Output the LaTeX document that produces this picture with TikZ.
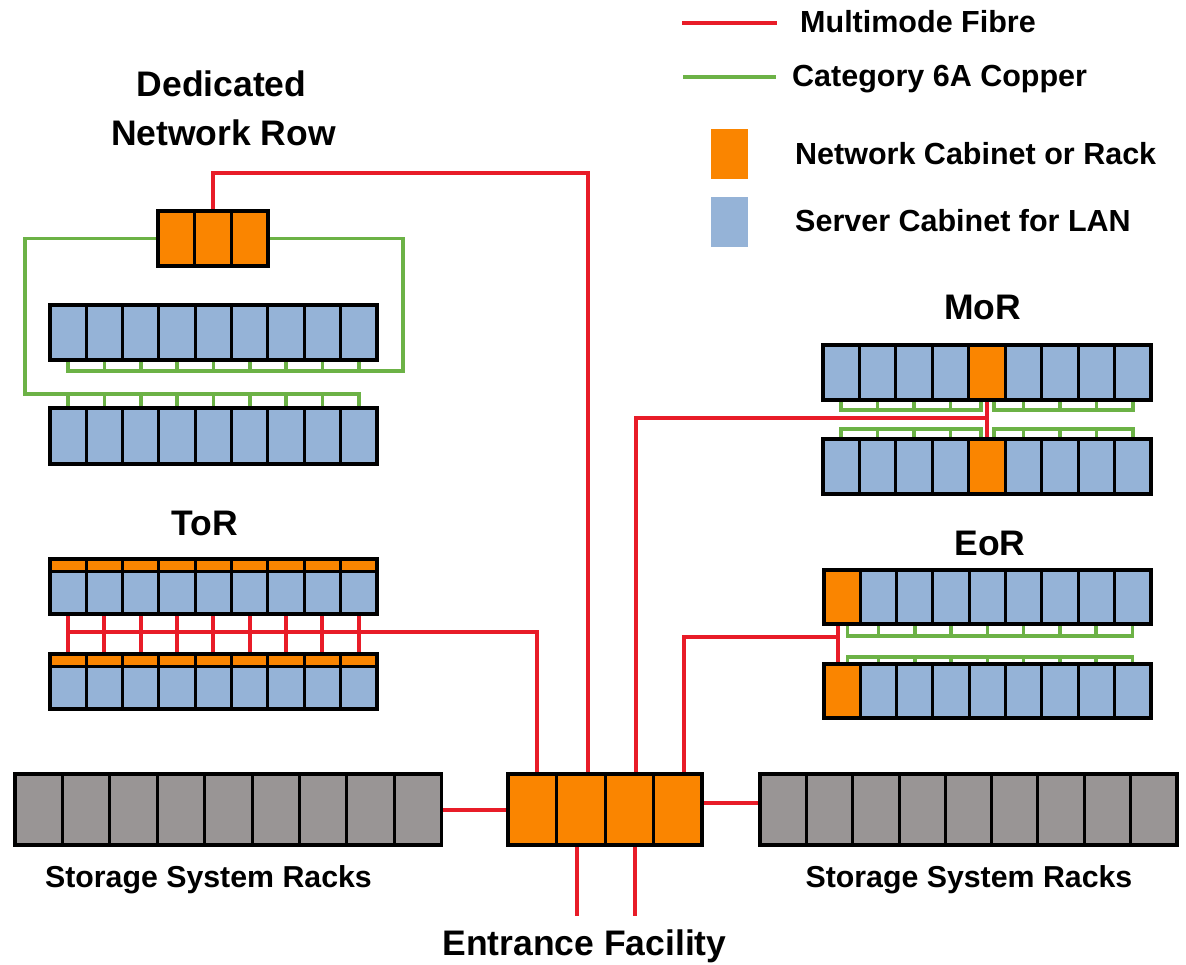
\documentclass[tikz,border=0pt]{standalone}
\usepackage{fontspec}
\setmainfont{Liberation Sans}
\usetikzlibrary{calc}

\definecolor{netorange}{RGB}{250,133,0}
\definecolor{srvblue}{RGB}{149,179,215}
\definecolor{storgray}{RGB}{153,149,149}
\definecolor{fibrered}{RGB}{232,28,40}
\definecolor{coppergreen}{RGB}{108,178,70}

\pgfdeclarelayer{cables}
\pgfsetlayers{cables,main}

\tikzset{
  cab/.style={draw=black, line width=3pt, inner sep=0pt, outer sep=0pt, anchor=north west},
  rowframe/.style={draw=black, line width=3.6pt, inner sep=0pt, outer sep=0pt, anchor=north west},
  fibre/.style={draw=fibrered, line width=4pt},
  copper/.style={draw=coppergreen, line width=3.6pt},
  keyline/.style={line width=3.6pt},
  keybox/.style={inner sep=0pt, outer sep=0pt, anchor=north west, minimum width=37pt, minimum height=50pt},
  title/.style={font=\fontsize{35.5}{42}\selectfont\bfseries, inner sep=0pt, anchor=base},
  caption/.style={font=\fontsize{30.3}{36}\selectfont\bfseries, inner sep=0pt, anchor=base},
  keytext/.style={font=\fontsize{30.5}{36}\selectfont\bfseries, inner sep=0pt, anchor=base west},
}

% a row of cabinets: name, left x, top y, cell width, height, count, fill, index of network cabinet (0 = none)
\newcommand{\cabrow}[8]{%
  \foreach \k in {1,...,#6}{%
    \ifnum\k=#8\relax\def\cabfill{netorange}\else\def\cabfill{#7}\fi
    \node[cab, fill=\cabfill, minimum width=#4pt, minimum height=#5pt] (#1-\k) at ({#2+(\k-1)*#4}, #3) {};
  }
  \node[rowframe, minimum width={#6*#4*1pt}, minimum height=#5pt] (#1) at (#2,#3) {};
}

\begin{document}
\begin{tikzpicture}[x=1pt, y=-1pt]
\useasboundingbox (0,0) rectangle (1186,965);

% ---------- cabinets ----------
\cabrow{DN}{158}{211}{36.67}{55}{3}{netorange}{0}
\cabrow{DA}{50}{305}{36.33}{55}{9}{srvblue}{0}
\cabrow{DB}{50}{408}{36.33}{56}{9}{srvblue}{0}

\cabrow{TA}{50}{559}{36.33}{55}{9}{srvblue}{0}
\cabrow{TB}{50}{654}{36.33}{55}{9}{srvblue}{0}
\foreach \r in {TA,TB}{
  \foreach \k in {1,...,9}{
    \node[cab, fill=netorange, minimum width=36.33pt, minimum height=12pt] (\r-\k-top) at (\r-\k.north west) {};
  }
}

\cabrow{MA}{823}{345}{36.44}{55}{9}{srvblue}{5}
\cabrow{MB}{823}{439}{36.44}{55}{9}{srvblue}{5}

\cabrow{EA}{824}{570}{36.3}{54}{9}{srvblue}{1}
\cabrow{EB}{824}{664}{36.3}{54}{9}{srvblue}{1}

\cabrow{SL}{15}{774}{47.4}{71}{9}{storgray}{0}
\cabrow{SR}{760}{774}{46.33}{71}{9}{storgray}{0}
\cabrow{EF}{508}{774}{48.5}{71}{4}{netorange}{0}

% ---------- cabling ----------
\begin{pgfonlayer}{cables}
  % dedicated network row: copper to both server rows, fibre to the entrance room
  \coordinate (dl) at (25,394);
  \draw[copper] (DN.west) -| (dl) -- (DB-9.north |- dl) -- (DB-9.north);
  \foreach \k in {1,...,8} \draw[copper] (DB-\k.north) -- (DB-\k.north |- dl);
  \coordinate (dr) at (403,371);
  \draw[copper] (DN.east) -| (dr) -- (DA-1.south |- dr) -- (DA-1.south);
  \foreach \k in {2,...,9} \draw[copper] (DA-\k.south) -- (DA-\k.south |- dr);
  \coordinate (dnbend) at (588,173);
  \draw[fibre] (DN-2.north) |- (dnbend) -- (dnbend |- EF.north);

  % top of rack
  \coordinate (torbend) at (537,632);
  \foreach \k in {1,...,9} \draw[fibre] (TA-\k.south) -- (TB-\k.north);
  \draw[fibre] (TA-1.south |- torbend) -- (torbend) -- (torbend |- EF.north);

  % middle of row
  \coordinate (mau) at ($(MA-5.south west)+(12,10)$);
  \draw[copper] (MA-1.south) -- (MA-1.south |- mau) -- (mau) -- (mau |- MA-5.south);
  \foreach \k in {2,3,4} \draw[copper] (MA-\k.south) -- (MA-\k.south |- mau);
  \coordinate (mav) at ($(MA-5.south east)+(-11,10)$);
  \draw[copper] (mav |- MA-5.south) -- (mav) -- (MA-9.south |- mav) -- (MA-9.south);
  \foreach \k in {6,7,8} \draw[copper] (MA-\k.south) -- (MA-\k.south |- mav);
  \coordinate (mbu) at ($(MB-5.north west)+(12,-10)$);
  \draw[copper] (MB-1.north) -- (MB-1.north |- mbu) -- (mbu) -- (mbu |- MB-5.north);
  \foreach \k in {2,3,4} \draw[copper] (MB-\k.north) -- (MB-\k.north |- mbu);
  \coordinate (mbv) at ($(MB-5.north east)+(-11,-10)$);
  \draw[copper] (mbv |- MB-5.north) -- (mbv) -- (MB-9.north |- mbv) -- (MB-9.north);
  \foreach \k in {6,7,8} \draw[copper] (MB-\k.north) -- (MB-\k.north |- mbv);
  \coordinate (morbend) at (636,418);
  \draw[fibre] (MA-5.south) -- (MB-5.north);
  \draw[fibre] (MA-5.south |- morbend) -- (morbend) -- (morbend |- EF.north);

  % end of row
  \coordinate (eau) at ($(EA-1.south east)+(-13,12)$);
  \draw[copper] (eau |- EA-1.south) -- (eau) -- (EA-9.south |- eau) -- (EA-9.south);
  \foreach \k in {2,...,8} \draw[copper] (EA-\k.south) -- (EA-\k.south |- eau);
  \coordinate (ebu) at ($(EB-1.north east)+(-13,-7)$);
  \draw[copper] (ebu |- EB-1.north) -- (ebu) -- (EB-9.north |- ebu) -- (EB-9.north);
  \foreach \k in {2,...,8} \draw[copper] (EB-\k.north) -- (EB-\k.north |- ebu);
  \coordinate (eorv) at ($(EA-1.south)+(-4,0)$);
  \coordinate (eorbend) at (684,637);
  \draw[fibre] (eorv) -- (eorv |- EB-1.north);
  \draw[fibre] (eorv |- eorbend) -- (eorbend) -- (eorbend |- EF.north);

  % storage and entrance
  \draw[fibre] (SL.east) -- (SL.east -| EF.west);
  \coordinate (efr) at ($(EF.east)+(0,-7)$);
  \draw[fibre] (efr) -- (efr -| SR.west);
  \coordinate (ent1) at (577,916);
  \coordinate (ent2) at (635,916);
  \draw[fibre] (ent1 |- EF.south) -- (ent1);
  \draw[fibre] (ent2 |- EF.south) -- (ent2);
\end{pgfonlayer}

% ---------- labels ----------
\node[title] (tded) at (221.5,97) {Dedicated};
\node[title] (tnet) at (223.5,146) {Network Row};
\node[title] (ttor) at (205,535) {ToR};
\node[title] (tmor) at (982.5,320) {MoR};
\node[title] (teor) at (990,555) {EoR};
\node[title] (tent) at (584.5,955) {Entrance Facility};
\node[caption] (tsl) at (208.5,887) {Storage System Racks};
\node[caption] (tsr) at (969,887) {Storage System Racks};

% ---------- key ----------
\draw[keyline, fibrered] (682,23) -- (777,23);
\draw[keyline, coppergreen] (683,77) -- (776,77);
\node[keybox, fill=netorange] (keynet) at (711,129) {};
\node[keybox, fill=srvblue] (keysrv) at (711,197) {};
\node[keytext] (kfibre) at (800,33) {Multimode Fibre};
\node[keytext] (kcopper) at (792,87) {Category 6A Copper};
\node[keytext] (knet) at (795,165) {Network Cabinet or Rack};
\node[keytext] (ksrv) at (795,232) {Server Cabinet for LAN};
\end{tikzpicture}
\end{document}
